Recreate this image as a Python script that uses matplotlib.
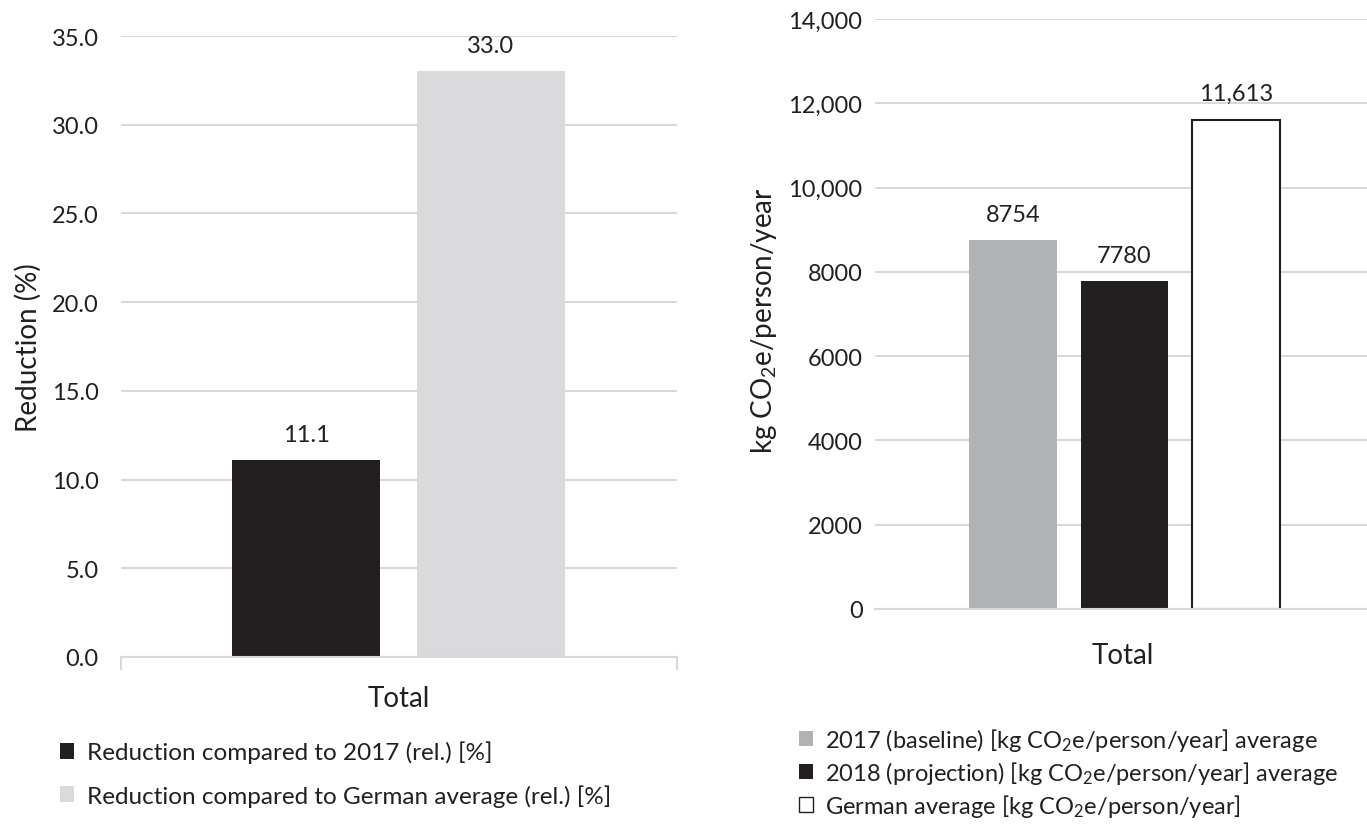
import matplotlib
matplotlib.use('Agg')
import matplotlib.pyplot as plt
from matplotlib.patches import Patch

plt.rcParams['font.family'] = ['Lato', 'DejaVu Sans']
plt.rcParams['mathtext.fontset'] = 'custom'
plt.rcParams['mathtext.rm'] = 'Lato'
plt.rcParams['mathtext.it'] = 'Lato:italic'

TEXT = '#231f20'
GRID = '#d9d9d9'

# Left chart: relative reductions
red_labels = ['Reduction compared to 2017 (rel.) [%]',
              'Reduction compared to German average (rel.) [%]']
red_values = [11.1, 33.0]
red_colors = ['#231f20', '#dadadc']
red_ticks = [0, 5, 10, 15, 20, 25, 30, 35]
red_ticklabels = ['0.0', '5.0', '10.0', '15.0', '20.0', '25.0', '30.0', '35.0']

# Right chart: absolute footprints
co2_labels = ['2017 (baseline) [kg CO$_2$e/person/year] average',
              '2018 (projection) [kg CO$_2$e/person/year] average',
              'German average [kg CO$_2$e/person/year]']
co2_values = [8754, 7780, 11613]
co2_text = ['8754', '7780', '11,613']
co2_colors = ['#b1b2b4', '#231f20', 'white']
co2_ticks = [0, 2000, 4000, 6000, 8000, 10000, 12000, 14000]
co2_ticklabels = ['0', '2000', '4000', '6000', '8000', '10,000', '12,000', '14,000']

category = 'Total'

fig = plt.figure(figsize=(13.67, 8.29), dpi=100)

def style_axes(ax):
    for s in ['left', 'right', 'top']:
        ax.spines[s].set_visible(False)
    ax.spines['bottom'].set_color(GRID)
    ax.spines['bottom'].set_linewidth(1.5)
    ax.yaxis.grid(True, color=GRID, linewidth=1.5)
    ax.set_axisbelow(True)
    ax.tick_params(axis='y', length=0, labelsize=17, colors=TEXT)
    ax.set_xticks([0])
    ax.set_xticklabels([category])
    ax.tick_params(axis='x', which='major', length=0, labelsize=20, colors=TEXT)

# ---- left
ax1 = fig.add_axes([121 / 1367, 1 - 658 / 829, 556 / 1367, 621 / 829])
w1 = 0.266
pos1 = [-0.167, 0.165]
bars1 = ax1.bar(pos1, red_values, width=w1, color=red_colors)
ax1.set_xlim(-0.5, 0.5)
ax1.set_ylim(0, 35)
style_axes(ax1)
ax1.set_yticks(red_ticks)
ax1.set_yticklabels(red_ticklabels)
ax1.tick_params(axis='y', pad=16)
ax1.tick_params(axis='x', pad=20)
ax1.set_xticks([-0.5, 0.5], minor=True)
ax1.tick_params(axis='x', which='minor', length=9, width=1.5, color=GRID)
for b, v in zip(bars1, red_values):
    ax1.annotate(f'{v:.1f}', (b.get_x() + b.get_width() / 2, v),
                 xytext=(0, 11), textcoords='offset points',
                 ha='center', va='bottom', fontsize=17, color=TEXT)
ax1.set_ylabel('Reduction (%)', fontsize=20, color=TEXT)
ax1.yaxis.set_label_coords(-0.142, 0.5)

h1 = [Patch(facecolor=c, edgecolor='none') for c in red_colors]
fig.legend(h1, red_labels, loc='upper left', bbox_to_anchor=(38 / 1367, 1 - 720 / 829),
           frameon=False, fontsize=17.5, handlelength=0.6, handleheight=0.6,
           handletextpad=0.5, labelspacing=0.85, labelcolor=TEXT)

# ---- right
ax2 = fig.add_axes([875 / 1367, 1 - 610 / 829, 496 / 1367, 590 / 829])
w2 = 0.177
pos2 = [-0.222, 0.003, 0.228]
bars2 = ax2.bar(pos2, co2_values, width=w2, color=co2_colors,
                edgecolor=['none', 'none', TEXT], linewidth=1.5)
ax2.set_xlim(-0.5, 0.5)
ax2.set_ylim(0, 14000)
style_axes(ax2)
ax2.set_yticks(co2_ticks)
ax2.set_yticklabels(co2_ticklabels)
ax2.tick_params(axis='y', pad=9)
ax2.tick_params(axis='x', pad=24)
for b, v, t in zip(bars2, co2_values, co2_text):
    ax2.annotate(t, (b.get_x() + b.get_width() / 2, v),
                 xytext=(0, 11), textcoords='offset points',
                 ha='center', va='bottom', fontsize=17, color=TEXT)
ax2.set_ylabel('kg CO$_2$e/person/year', fontsize=20, color=TEXT)
ax2.yaxis.set_label_coords(-0.194, 0.49)

h2 = [Patch(facecolor=c, edgecolor=('none' if c != 'white' else TEXT), linewidth=1)
      for c in co2_colors]
fig.legend(h2, co2_labels, loc='upper left', bbox_to_anchor=(778 / 1367, 1 - 706 / 829),
           frameon=False, fontsize=17, handlelength=0.6, handleheight=0.6,
           handletextpad=0.5, labelspacing=0.25, labelcolor=TEXT)

fig.savefig('out.png', dpi=100)
